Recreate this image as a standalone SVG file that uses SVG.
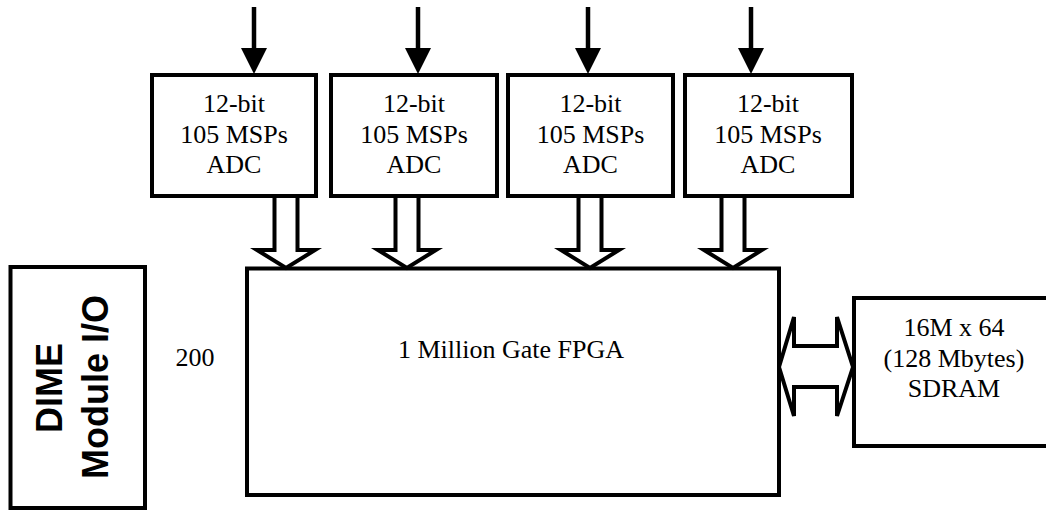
<svg xmlns="http://www.w3.org/2000/svg" width="1046" height="510" viewBox="0 0 1046 510">
<style>
.box{fill:#fff;stroke:#000;stroke-width:4}
.t{font-family:"Liberation Serif","Times New Roman",serif;font-size:26px;fill:#000;text-anchor:middle}
.b{font-family:"Liberation Sans",Arial,sans-serif;font-size:36px;font-weight:bold;fill:#000;text-anchor:middle}
.ln{stroke:#000;stroke-width:4.5;fill:none}
.hd{fill:#000;stroke:none}
.ha{fill:#fff;stroke:#000;stroke-width:4;stroke-linejoin:miter}
</style>
<rect width="1046" height="510" fill="#fff"/>
<g id="adc1">
<rect class="box" x="152" y="75" width="164" height="121"/>
<text class="t" x="234" y="112">12-bit</text>
<text class="t" x="234" y="143">105 MSPs</text>
<text class="t" x="234" y="173">ADC</text>
</g>
<g id="adc2">
<rect class="box" x="331" y="75" width="166" height="121"/>
<text class="t" x="414" y="112">12-bit</text>
<text class="t" x="414" y="143">105 MSPs</text>
<text class="t" x="414" y="173">ADC</text>
</g>
<g id="adc3">
<rect class="box" x="508" y="75" width="165" height="121"/>
<text class="t" x="590.5" y="112">12-bit</text>
<text class="t" x="590.5" y="143">105 MSPs</text>
<text class="t" x="590.5" y="173">ADC</text>
</g>
<g id="adc4">
<rect class="box" x="685" y="75" width="167" height="121"/>
<text class="t" x="768" y="112">12-bit</text>
<text class="t" x="768" y="143">105 MSPs</text>
<text class="t" x="768" y="173">ADC</text>
</g>
<g id="fpga">
<rect class="box" x="247" y="268.5" width="532" height="226.5"/>
<text class="t" x="511" y="358">1 Million Gate FPGA</text>
</g>
<g id="dime">
<rect class="box" x="10.5" y="267" width="134.5" height="241"/>
<text class="b" transform="translate(62,388) rotate(-90)">DIME</text>
<text class="b" transform="translate(108,387) rotate(-90)">Module I/O</text>
</g>
<g id="label200">
<text class="t" x="195" y="366">200</text>
</g>
<g id="sdram">
<rect class="box" x="854" y="298" width="210" height="148"/>
<text class="t" x="954" y="336">16M x 64</text>
<text class="t" x="954" y="367">(128 Mbytes)</text>
<text class="t" x="954" y="397">SDRAM</text>
</g>
<g id="connectors">
<line class="ln" x1="254" y1="7" x2="254" y2="50"/>
<polygon class="hd" points="241,48 267,48 254,74"/>
<line class="ln" x1="418" y1="7" x2="418" y2="50"/>
<polygon class="hd" points="405,48 431,48 418,74"/>
<line class="ln" x1="588" y1="7" x2="588" y2="50"/>
<polygon class="hd" points="575,48 601,48 588,74"/>
<line class="ln" x1="751" y1="7" x2="751" y2="50"/>
<polygon class="hd" points="738,48 764,48 751,74"/>
<path class="ha" d="M274.5,198 L274.5,250 L257,250 L286,268 L315,250 L297.5,250 L297.5,198"/>
<path class="ha" d="M395.5,198 L395.5,250 L378,250 L407,268 L436,250 L418.5,250 L418.5,198"/>
<path class="ha" d="M578.5,198 L578.5,250 L561,250 L590,268 L619,250 L601.5,250 L601.5,198"/>
<path class="ha" d="M721.5,198 L721.5,250 L704,250 L733,268 L762,250 L744.5,250 L744.5,198"/>
<path class="ha" d="M779,367 L794,317 L794,346 L837,346 L837,317 L853,367 L837,416 L837,387 L794,387 L794,416 Z"/>
</g>
</svg>
